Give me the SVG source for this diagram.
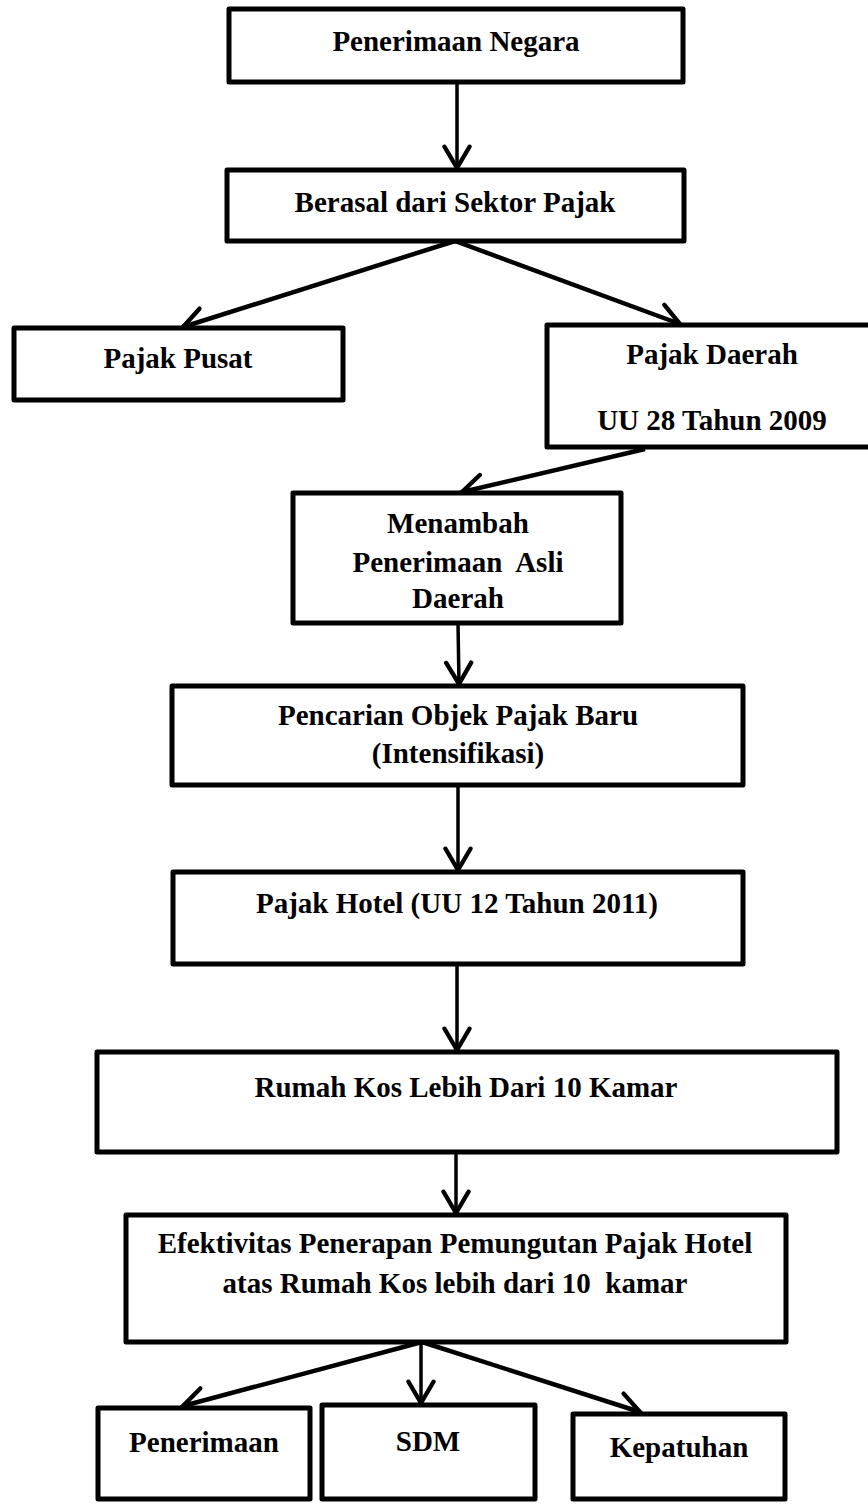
<svg xmlns="http://www.w3.org/2000/svg" width="868" height="1504" viewBox="0 0 868 1504">
<style>
.box{fill:#fff;stroke:#000;stroke-width:5;stroke-linejoin:round}
.lbl{font-family:"Liberation Serif","Times New Roman",serif;font-weight:bold;font-size:29px;fill:#000;text-anchor:middle;white-space:pre}
.c{fill:none;stroke:#000;stroke-width:3.5;marker-end:url(#ah)}
.d{stroke-width:4.5}
</style>
<defs>
<marker id="ah" markerUnits="userSpaceOnUse" markerWidth="30" markerHeight="30" viewBox="-20 -12 24 24" refX="0" refY="0" orient="auto">
<path d="M-17,-10 L0,0 L-17,10" fill="none" stroke="#000" stroke-width="3.5" stroke-linecap="round" stroke-linejoin="miter"/>
</marker>
</defs>
<rect width="868" height="1504" fill="#fff"/>
<g id="connectors">
<line class="c" x1="457" y1="82" x2="457" y2="168"/>
<line class="c d" x1="455" y1="241" x2="183" y2="327"/>
<line class="c d" x1="455" y1="241" x2="680" y2="324"/>
<line class="c d" x1="645" y1="449" x2="462" y2="492"/>
<line class="c" x1="458" y1="623" x2="459" y2="684"/>
<line class="c" x1="458" y1="785" x2="458" y2="870"/>
<line class="c" x1="457" y1="964" x2="457" y2="1050"/>
<line class="c" x1="456" y1="1152" x2="456" y2="1213"/>
<line class="c d" x1="422" y1="1342" x2="183" y2="1406"/>
<line class="c" x1="421" y1="1342" x2="421" y2="1403"/>
<line class="c d" x1="422" y1="1342" x2="640" y2="1412"/>
</g>
<g id="n1"><rect class="box" x="229" y="9" width="454" height="73"/><text class="lbl" x="456" y="51">Penerimaan Negara</text></g>
<g id="n2"><rect class="box" x="227" y="170" width="457" height="71"/><text class="lbl" x="455" y="212">Berasal dari Sektor Pajak</text></g>
<g id="n3"><rect class="box" x="14" y="328" width="329" height="72"/><text class="lbl" x="178" y="368">Pajak Pusat</text></g>
<g id="n4"><rect class="box" x="547" y="325" width="325" height="122"/><text class="lbl" x="712" y="364">Pajak Daerah</text><text class="lbl" x="712" y="430">UU 28 Tahun 2009</text></g>
<g id="n5"><rect class="box" x="293" y="493" width="328" height="130"/><text class="lbl" x="458" y="533">Menambah</text><text class="lbl" x="458" y="572" xml:space="preserve">Penerimaan  Asli</text><text class="lbl" x="458" y="608">Daerah</text></g>
<g id="n6"><rect class="box" x="172" y="686" width="571" height="99"/><text class="lbl" x="458" y="725">Pencarian Objek Pajak Baru</text><text class="lbl" x="458" y="763">(Intensifikasi)</text></g>
<g id="n7"><rect class="box" x="173" y="872" width="570" height="92"/><text class="lbl" x="457" y="913">Pajak Hotel (UU 12 Tahun 2011)</text></g>
<g id="n8"><rect class="box" x="97" y="1052" width="740" height="100"/><text class="lbl" x="466" y="1097">Rumah Kos Lebih Dari 10 Kamar</text></g>
<g id="n9"><rect class="box" x="126" y="1215" width="660" height="127"/><text class="lbl" x="455" y="1253">Efektivitas Penerapan Pemungutan Pajak Hotel</text><text class="lbl" x="455" y="1293" xml:space="preserve">atas Rumah Kos lebih dari 10  kamar</text></g>
<g id="n10"><rect class="box" x="98" y="1408" width="212" height="91"/><text class="lbl" x="204" y="1452">Penerimaan</text></g>
<g id="n11"><rect class="box" x="322" y="1405" width="213" height="94"/><text class="lbl" x="428" y="1451">SDM</text></g>
<g id="n12"><rect class="box" x="573" y="1414" width="212" height="85"/><text class="lbl" x="679" y="1457">Kepatuhan</text></g>
</svg>
